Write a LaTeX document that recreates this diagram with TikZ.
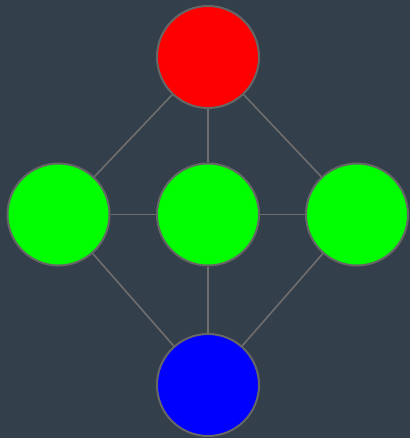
\documentclass[tikz,border=0pt]{standalone}
\definecolor{bg}{HTML}{333F4A}
\definecolor{edgec}{HTML}{6E6E6E}
\definecolor{rimc}{HTML}{666666}
\begin{document}
\begin{tikzpicture}[x=1pt,y=-1pt,
  ball/.style={circle,draw=rimc,line width=2pt,minimum size=102pt,inner sep=0pt},
  link/.style={draw=edgec,line width=1.6pt}]
\fill[bg] (0,0) rectangle (410,438);
\useasboundingbox (0,0) rectangle (410,438);
\node[ball,fill=red] (t) at (208,57) {};
\node[ball,fill={rgb,255:red,0;green,255;blue,0}] (l) at (58.5,214.5) {};
\node[ball,fill={rgb,255:red,0;green,255;blue,0}] (m) at (208,214.5) {};
\node[ball,fill={rgb,255:red,0;green,255;blue,0}] (r) at (357,214.5) {};
\node[ball,fill=blue] (b) at (208,385) {};
\path[link] (t) -- (l);
\path[link] (t) -- (m);
\path[link] (t) -- (r);
\path[link] (l) -- (m);
\path[link] (m) -- (r);
\path[link] (l) -- (b);
\path[link] (m) -- (b);
\path[link] (r) -- (b);
\end{tikzpicture}
\end{document}
